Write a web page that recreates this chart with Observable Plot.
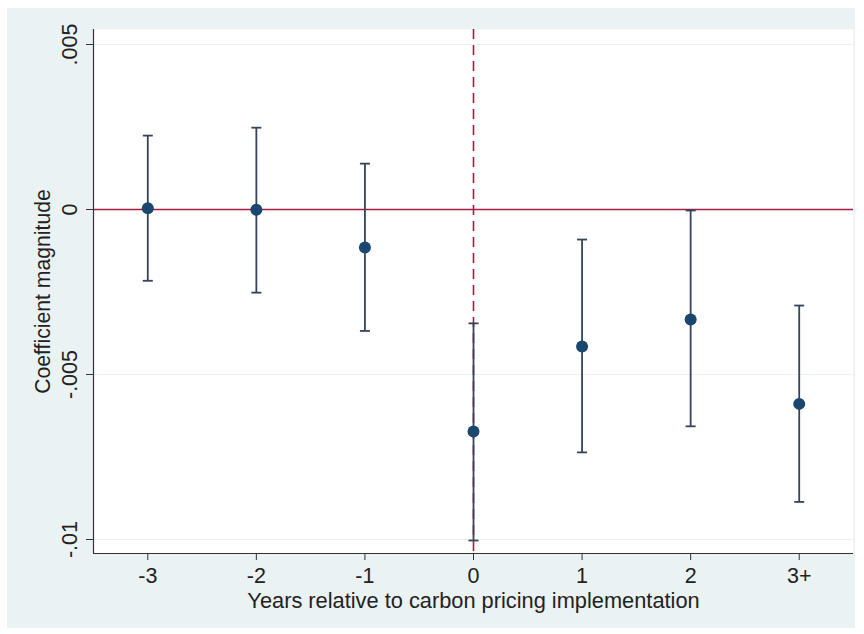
<!DOCTYPE html>
<html>
<head>
<meta charset="utf-8">
<script src="https://cdn.jsdelivr.net/npm/d3@7"></script>
<script src="https://cdn.jsdelivr.net/npm/@observablehq/plot@0.6"></script>
<style>
  html, body { margin: 0; padding: 0; background: #ffffff; }
  #wrap { position: relative; width: 864px; height: 634px; }
  #bg { position: absolute; left: 7px; top: 8px; width: 848px; height: 620px; background: #eaf2f3; }
  #chart { position: absolute; left: 0; top: 0; }
</style>
</head>
<body>
<div id="wrap"><div id="bg"></div><div id="chart"></div></div>
<script>
const periods = [-3, -2, -1, 0, 1, 2, 3];
const periodLabels = ["-3", "-2", "-1", "0", "1", "2", "3+"];
const coef  = [0.00004, -0.00001, -0.00115, -0.00673, -0.00415, -0.00333, -0.00589];
const ciHigh = [0.00224, 0.00248, 0.00139, -0.00345, -0.00091, -0.00003, -0.00291];
const ciLow  = [-0.00216, -0.00252, -0.00368, -0.01003, -0.00736, -0.00657, -0.00886];
const yTicks = [0.005, 0, -0.005, -0.01];
const yTickLabels = [".005", "0", "-.005", "-.01"];

const rows = periods.map((p, i) => ({x: p, y: coef[i], lo: ciLow[i], hi: ciHigh[i]}));
const font = "'Liberation Sans', Arial, sans-serif";

// horizontal cap symbol for error bars
const capSymbol = {draw(ctx) { ctx.moveTo(-5, 0); ctx.lineTo(5, 0); }};

const chart = Plot.plot({
  width: 864,
  height: 634,
  marginLeft: 93,
  marginRight: 11,
  marginTop: 29,
  marginBottom: 81,
  style: {background: "transparent", fontFamily: font, fontSize: "21px", color: "#222"},
  x: {type: "linear", domain: [-3.5, 3.5]},
  y: {domain: [-0.010424, 0.005455]},
  marks: [
    Plot.frame({fill: "white", stroke: null}),
    Plot.gridY(yTicks, {stroke: "#eaf2f3", strokeOpacity: 1, strokeWidth: 1.2}),
    Plot.ruleY([0], {stroke: "#a51e3f", strokeWidth: 1.6}),
    Plot.ruleX([0], {stroke: "#a51e3f", strokeWidth: 1.6, strokeDasharray: "10,6"}),
    Plot.ruleX(rows, {x: "x", y1: "lo", y2: "hi", stroke: "#34445a", strokeWidth: 1.8}),
    Plot.dot(rows, {x: "x", y: "lo", symbol: capSymbol, fill: "none", stroke: "#34445a", strokeWidth: 1.8}),
    Plot.dot(rows, {x: "x", y: "hi", symbol: capSymbol, fill: "none", stroke: "#34445a", strokeWidth: 1.8}),
    Plot.dot(rows, {x: "x", y: "y", r: 6, fill: "#1a476f", stroke: null}),
    Plot.axisX(periods, {tickSize: 7, tickFormat: d => periodLabels[periods.indexOf(d)], tickPadding: 7, fontSize: 21.5, stroke: "#333", fill: "#222", label: null}),
    Plot.axisY(yTicks, {tickSize: 7, tickFormat: d => yTickLabels[yTicks.indexOf(d)], tickRotate: -90, tickPadding: 10, fontSize: 21.5, stroke: "#333", fill: "#222", label: null}),
    Plot.ruleX([-3.5], {stroke: "#333", strokeWidth: 1.2}),
    Plot.ruleY([-0.010424], {stroke: "#333", strokeWidth: 1.2}),
    Plot.text(["Coefficient magnitude"], {frameAnchor: "left", textAnchor: "middle", rotate: -90, dx: -50, lineAnchor: "middle", fontSize: 21.2, fill: "#222"}),
    Plot.text(["Years relative to carbon pricing implementation"], {frameAnchor: "bottom", dy: 48, lineAnchor: "middle", fontSize: 21.8, fill: "#222"})
  ]
});
document.getElementById("chart").appendChild(chart);
</script>
</body>
</html>
